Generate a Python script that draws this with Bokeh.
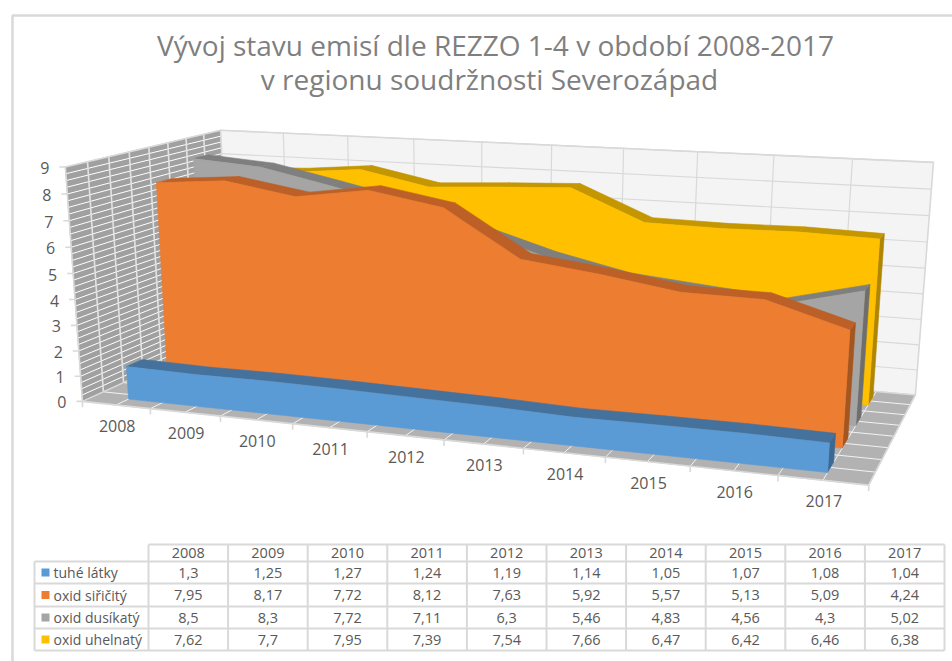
import numpy as np
from bokeh.plotting import figure
from bokeh.models import Range1d
from bokeh.core.properties import value
from bokeh.embed import file_html
from bokeh.resources import INLINE

# ---- data ----
years = ["2008","2009","2010","2011","2012","2013","2014","2015","2016","2017"]
tuhe_latky = [1.3,1.25,1.27,1.24,1.19,1.14,1.05,1.07,1.08,1.04]
oxid_siricity = [7.95,8.17,7.72,8.12,7.63,5.92,5.57,5.13,5.09,4.24]
oxid_dusikaty = [8.5,8.3,7.72,7.11,6.3,5.46,4.83,4.56,4.3,5.02]
oxid_uhelnaty = [7.62,7.7,7.95,7.39,7.54,7.66,6.47,6.42,6.46,6.38]
series_names = ["tuhé látky","oxid siřičitý","oxid dusíkatý","oxid uhelnatý"]
series_values = [tuhe_latky,oxid_siricity,oxid_dusikaty,oxid_uhelnaty]
table_labels = [["1,3","1,25","1,27","1,24","1,19","1,14","1,05","1,07","1,08","1,04"],
                ["7,95","8,17","7,72","8,12","7,63","5,92","5,57","5,13","5,09","4,24"],
                ["8,5","8,3","7,72","7,11","6,3","5,46","4,83","4,56","4,3","5,02"],
                ["7,62","7,7","7,95","7,39","7,54","7,66","6,47","6,42","6,46","6,38"]]
y_ticks = list(range(10))
title_lines = ["Vývoj stavu emisí dle REZZO 1-4 v období 2008-2017","v regionu soudržnosti Severozápad"]

# ---- styles ----
front_col = ["#5B9BD5","#ED7D31","#A5A5A5","#FFC000"]
top_col = ["#44729D","#BC6027","#7F7F7F","#C49600"]
side_col = ["#3C6894","#A5551F","#6E6E6E","#B08600"]
GRID = "#D9D9D9"; TXT = "#595959"
YMAX = 9.0

# ---- camera: 3D frame corners (x, depth, value) -> page pixels ----
world = [(0,0,0),(0,0,1),(0,1,1),(1,1,0),(1,1,1),(1,0,0)]
page = [(82,401),(65,166),(220,130),(915,394),(933,162),(868,485)]
A = []
for (X,Y,Z),(u,v) in zip(world,page):
    A.append([X,Y,Z,1,0,0,0,0,-u*X,-u*Y,-u*Z,-u])
    A.append([0,0,0,0,X,Y,Z,1,-v*X,-v*Y,-v*Z,-v])
P = np.linalg.svd(np.array(A,float))[2][-1].reshape(3,4)

def proj(x,d,v):
    """x in category units (0..10), d depth 0..1, v data value."""
    h = P @ np.array([x/10.0,d,v/YMAX,1.0])
    return h[0]/h[2], h[1]/h[2]

def poly(pts):
    q = [proj(*a) for a in pts]
    return [a[0] for a in q],[a[1] for a in q]

p = figure(width=952,height=661,output_backend="svg",toolbar_location=None,
           x_range=Range1d(0,952),y_range=Range1d(661,0),min_border=0)
p.axis.visible=False; p.grid.visible=False; p.outline_line_color=None

def patch(xs,ys,col,lc=None,lw=0.6):
    p.patch(xs,ys,fill_color=col,line_color=lc or col,line_width=lw)
def lines(xs,ys,col,w,alpha=1.0):
    p.multi_line(xs,ys,line_color=col,line_width=w,line_alpha=alpha)

# chart frame
lines([[12,12,952]],[[661,15,15]],GRID,2.5)

# walls
patch(*poly([(0,0,0),(0,0,YMAX),(0,1,YMAX),(0,1,0)]),"#A0A0A0")
patch(*poly([(0,1,0),(0,1,YMAX),(10,1,YMAX),(10,1,0)]),"#F4F4F4")
patch(*poly([(0,0,0),(10,0,0),(10,1,0),(0,1,0)]),"#B2B2B2")

# floor lines
xs,ys=[],[]
for i in range(1,8):
    a,b=poly([(0,i/8,0),(10,i/8,0)]); xs.append(a); ys.append(b)
for i in range(1,20):
    a,b=poly([(i/2,0,0),(i/2,1,0)]); xs.append(a); ys.append(b)
lines(xs,ys,"#F2F2F2",1.0)
# left wall fine stripes
xs,ys=[],[]
for i in range(1,36):
    a,b=poly([(0,0,i/4),(0,1,i/4)]); xs.append(a); ys.append(b)
lines(xs,ys,"#FFFFFF",1.0)
xs,ys=[],[]
for i in range(1,8):
    a,b=poly([(0,i/8,0),(0,i/8,YMAX)]); xs.append(a); ys.append(b)
lines(xs,ys,"#E2E2E2",1.6)
# back wall grid
xs,ys=[],[]
for v in y_ticks[1:]:
    a,b=poly([(0,1,v),(10,1,v)]); xs.append(a); ys.append(b)
for i in range(1,10):
    a,b=poly([(i,1,0),(i,1,YMAX)]); xs.append(a); ys.append(b)
lines(xs,ys,GRID,1.2)
# frame edges & ticks
xs,ys=[],[]
for seg in [[(0,0,0),(0,0,YMAX),(0,1,YMAX),(10,1,YMAX),(10,1,0),(10,0,0),(0,0,0),(0,1,0),(0,1,YMAX)],
            [(0,1,0),(10,1,0)]]:
    a,b=poly(seg); xs.append(a); ys.append(b)
for v in y_ticks:
    a,b=proj(0,0,v); xs.append([a-6,a]); ys.append([b,b])
for i in range(11):
    a,b=proj(i,0,0); xs.append([a,a]); ys.append([b,b+6])
lines(xs,ys,GRID,1.6)

# series, back to front
for s in [3,2,1,0]:
    d0,d1=(s+0.3)/4,(s+0.7)/4
    vals=series_values[s]
    n=len(vals)
    cx=[i+0.5 for i in range(n)]
    patch(*poly([(cx[-1],d0,0),(cx[-1],d0,vals[-1]),(cx[-1],d1,vals[-1]),(cx[-1],d1,0)]),side_col[s])
    for i in range(n-1):
        patch(*poly([(cx[i],d0,vals[i]),(cx[i+1],d0,vals[i+1]),(cx[i+1],d1,vals[i+1]),(cx[i],d1,vals[i])]),top_col[s])
    pts=[(cx[0],d0,0)]+[(cx[i],d0,vals[i]) for i in range(n)]+[(cx[-1],d0,0)]
    patch(*poly(pts),front_col[s])

# axis labels
def label(xs,ys,txt,size,col=TXT,align="center",font="Open Sans"):
    p.text(xs,ys,text=txt,text_font=value(font),text_font_size=size,text_color=col,
           text_align=align,text_baseline="middle")
a=[proj(0,0,v) for v in y_ticks]
label([q[0]-16 for q in a],[q[1]+1 for q in a],[str(v) for v in y_ticks],"16px",align="right")
a=[proj(i+0.5,0,0) for i in range(10)]
label([q[0]+1 for q in a],[q[1]+21 for q in a],years,"16px")

# title
label([495,489],[44,78],title_lines,"28px",col="#7F7F7F")

# data table
col_x=[34,148]+[148+79.6*i for i in range(1,11)]
row_y=[544,561,583,606,628,650]
xs=[];ys=[]
for i,x in enumerate(col_x):
    xs.append([x,x]); ys.append([row_y[1] if i==0 else row_y[0],row_y[-1]])
for j,y in enumerate(row_y):
    xs.append([col_x[1] if j==0 else col_x[0],col_x[-1]]); ys.append([y,y])
lines(xs,ys,GRID,2)
centers=[(col_x[i+1]+col_x[i+2])/2 for i in range(10)]
label(centers,[552.5]*10,years,"14.5px")
rc=[(row_y[j+1]+row_y[j+2])/2 for j in range(4)]
for j in range(4):
    label(centers,[rc[j]]*10,table_labels[j],"14.5px")
    p.rect([45],[rc[j]],width=8,height=8,fill_color=front_col[j],line_color=None)
label([53]*4,rc,series_names,"14px",align="left")

open("out.html","w").write(file_html(p,INLINE))
